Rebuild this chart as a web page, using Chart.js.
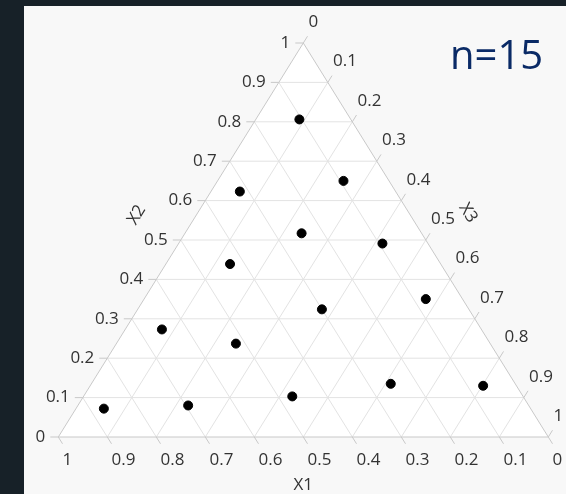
<!DOCTYPE html>
<html>
<head>
  <meta charset="utf-8">
  <title>Ternary plot n=15</title>
  <script src="https://cdn.jsdelivr.net/npm/chart.js"></script>
  <style>
    html, body {
      margin: 0;
      padding: 0;
      background: #172128;
      width: 566px;
      height: 494px;
      overflow: hidden;
    }
    .panel {
      position: absolute;
      left: 24px;
      top: 6px;
      width: 542px;
      height: 488px;
      background: #f8f8f8;
    }
    .count {
      position: absolute;
      left: 426px;
      top: 20px;
      font-family: "Open Sans", sans-serif;
      font-size: 40px;
      color: #0a2a66;
    }
  </style>
</head>
<body>
  <div class="panel">
    <canvas id="ternary"></canvas>
    <div class="count">n=15</div>
  </div>

  <script>
    // design points (X1 + X2 + X3 = 1)
    const x1Vals = [0.105, 0.093, 0.318, 0.245, 0.093, 0.430, 0.075, 0.300, 0.652, 0.519, 0.254, 0.068, 0.471, 0.695, 0.871];
    const x2Vals = [0.806, 0.650, 0.623, 0.517, 0.491, 0.439, 0.350, 0.324, 0.273, 0.237, 0.135, 0.130, 0.103, 0.080, 0.072];
    const x3Vals = [0.089, 0.257, 0.059, 0.238, 0.416, 0.131, 0.575, 0.376, 0.075, 0.244, 0.611, 0.802, 0.426, 0.225, 0.057];
    const tickVals = [0, 0.1, 0.2, 0.3, 0.4, 0.5, 0.6, 0.7, 0.8, 0.9, 1];
    const tickLabels = ["0", "0.1", "0.2", "0.3", "0.4", "0.5", "0.6", "0.7", "0.8", "0.9", "1"];

    // ternary -> cartesian (x runs along the base, y is X2)
    function toXY(a, b, c) {
      return { x: c + b / 2, y: b };
    }

    const points = x1Vals.map((a, i) => toXY(a, x2Vals[i], x3Vals[i]));

    const FONT = '17px "Open Sans", sans-serif';
    const TICK = 8;

    const ternaryPlugin = {
      id: 'ternary',
      beforeDatasetsDraw(chart) {
        const ctx = chart.ctx;
        const sx = chart.scales.x, sy = chart.scales.y;
        const P = (a, b, c) => {
          const q = toXY(a, b, c);
          return [sx.getPixelForValue(q.x), sy.getPixelForValue(q.y)];
        };
        const line = (p, q) => {
          ctx.beginPath();
          ctx.moveTo(p[0], p[1]);
          ctx.lineTo(q[0], q[1]);
          ctx.stroke();
        };
        const bl = P(1, 0, 0), top = P(0, 1, 0), br = P(0, 0, 1);

        ctx.save();
        // triangle fill
        ctx.fillStyle = '#ffffff';
        ctx.beginPath();
        ctx.moveTo(bl[0], bl[1]);
        ctx.lineTo(top[0], top[1]);
        ctx.lineTo(br[0], br[1]);
        ctx.closePath();
        ctx.fill();

        // grid
        ctx.strokeStyle = '#e3e3e3';
        ctx.lineWidth = 1;
        tickVals.slice(1, -1).forEach(v => {
          line(P(1 - v, v, 0), P(0, v, 1 - v));   // X2 = v
          line(P(v, 1 - v, 0), P(v, 0, 1 - v));   // X1 = v
          line(P(0, 1 - v, v), P(1 - v, 0, v));   // X3 = v
        });

        // border
        ctx.strokeStyle = '#c8c8c8';
        ctx.beginPath();
        ctx.moveTo(bl[0], bl[1]);
        ctx.lineTo(top[0], top[1]);
        ctx.lineTo(br[0], br[1]);
        ctx.closePath();
        ctx.stroke();

        // tick directions
        const lenL = Math.hypot(top[0] - bl[0], top[1] - bl[1]);
        const up = [(top[0] - bl[0]) / lenL, (top[1] - bl[1]) / lenL];        // along left side
        const lenR = Math.hypot(br[0] - top[0], br[1] - top[1]);
        const down = [(br[0] - top[0]) / lenR, (br[1] - top[1]) / lenR];     // along right side

        ctx.font = FONT;
        ctx.fillStyle = '#333333';
        tickVals.forEach((v, i) => {
          // X2 on the left edge
          let p = P(1 - v, v, 0);
          line([p[0] - TICK, p[1]], p);
          ctx.textAlign = 'right';
          ctx.textBaseline = 'middle';
          ctx.fillText(tickLabels[i], p[0] - TICK - 5, p[1]);

          // X1 along the base
          p = P(v, 0, 1 - v);
          let e = [p[0] + down[0] * TICK, p[1] + down[1] * TICK];
          line(p, e);
          ctx.textAlign = 'left';
          ctx.fillText(tickLabels[i], e[0], p[1] + 23);

          // X3 on the right edge
          p = P(0, 1 - v, v);
          e = [p[0] + up[0] * TICK, p[1] + up[1] * TICK];
          line(p, e);
          ctx.fillText(tickLabels[i], e[0] + 1, e[1] - 14);
        });

        // axis titles
        ctx.textAlign = 'center';
        ctx.textBaseline = 'middle';
        ctx.fillText('X1', (bl[0] + br[0]) / 2, bl[1] + 48);
        const ang = Math.atan2(up[1], up[0]);
        ctx.save();
        ctx.translate(112.7, 209);
        ctx.rotate(ang);
        ctx.fillText('X2', 0, 0);
        ctx.restore();
        ctx.save();
        ctx.translate(444, 207);
        ctx.rotate(-ang);
        ctx.fillText('X3', 0, 0);
        ctx.restore();
        ctx.restore();
      }
    };

    new Chart(document.getElementById('ternary'), {
      type: 'scatter',
      data: {
        datasets: [{
          data: points,
          backgroundColor: '#000000',
          borderColor: '#000000',
          pointRadius: 4.5,
          pointHoverRadius: 5
        }]
      },
      options: {
        responsive: true,
        maintainAspectRatio: false,
        animation: false,
        layout: {
          autoPadding: false,
          padding: { left: 34.3, right: 17.7, top: 37, bottom: 57 }
        },
        scales: {
          x: { type: 'linear', min: 0, max: 1, display: false },
          y: { type: 'linear', min: 0, max: 1, display: false }
        },
        plugins: {
          legend: { display: false },
          tooltip: {
            callbacks: {
              label: c => 'X1 ' + x1Vals[c.dataIndex] + ', X2 ' + x2Vals[c.dataIndex] + ', X3 ' + x3Vals[c.dataIndex]
            }
          }
        }
      },
      plugins: [ternaryPlugin]
    });
  </script>
</body>
</html>
